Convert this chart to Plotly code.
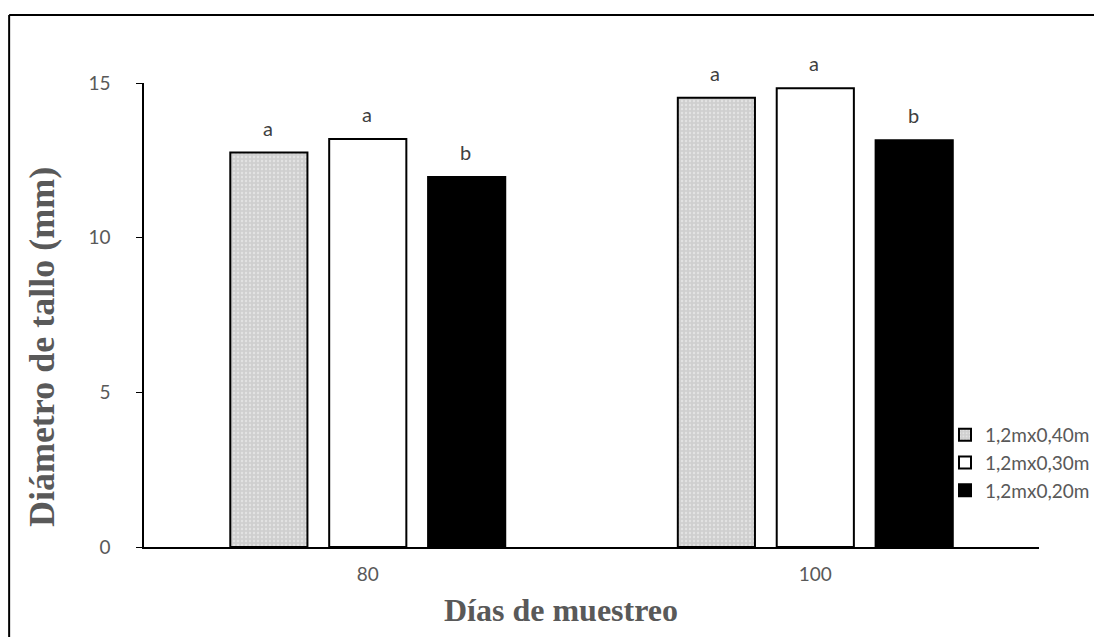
import plotly.graph_objects as go

categories = ["80", "100"]
series_names = ["1,2mx0,40m", "1,2mx0,30m", "1,2mx0,20m"]
values_040 = [12.75, 14.52]
values_030 = [13.19, 14.83]
values_020 = [11.96, 13.15]
letters_040 = ["a", "a"]
letters_030 = ["a", "a"]
letters_020 = ["b", "b"]
y_ticks = [0, 5, 10, 15]

W, H = 1095, 637
ML, MR, MT, MB = 144, 0, 83, 90
AX_END = 1040
pw = W - ML - MR
ph = H - MT - MB
xdom_end = (AX_END - ML) / pw
axw = AX_END - ML
bargap = 0.337
slot = axw / len(categories) * (1 - bargap) / 3

fig = go.Figure()
styles = [
    dict(color="#d6d6d6", line=dict(color="black", width=2),
         pattern=dict(shape=".", fgcolor="#f4f4f4", bgcolor="#cfcfcf", size=4, solidity=0.3)),
    dict(color="white", line=dict(color="black", width=2)),
    dict(color="black", line=dict(color="black", width=2)),
]
all_vals = [values_040, values_030, values_020]
all_letters = [letters_040, letters_030, letters_020]
for name, vals, st in zip(series_names, all_vals, styles):
    fig.add_trace(go.Bar(x=categories, y=vals, name=name, marker=st))

annotations = []
for i, (vals, lets) in enumerate(zip(all_vals, all_letters)):
    for ci, (v, l) in enumerate(zip(vals, lets)):
        annotations.append(dict(x=ci, y=v, xref="x", yref="y", text=l, showarrow=False,
                                xshift=(i - 1) * slot - 1, yshift=25,
                                font=dict(family="Lato", size=20, color="#404040")))

annotations.append(dict(text="<b>Días de muestreo</b>", xref="paper", yref="paper",
                        x=(561 - ML) / pw, y=-(610 - (MT + ph)) / ph, showarrow=False,
                        xanchor="center", yanchor="middle",
                        font=dict(family="Liberation Serif", size=32, color="#595959")))
annotations.append(dict(text="<b>Diámetro de tallo (mm)</b>", xref="paper", yref="paper",
                        x=(42 - ML) / pw, y=(MT + ph - 347) / ph, showarrow=False, textangle=-90,
                        xanchor="center", yanchor="middle",
                        font=dict(family="Liberation Serif", size=36, color="#595959")))

fig.update_layout(
    width=W, height=H,
    margin=dict(l=ML, r=MR, t=MT, b=MB),
    paper_bgcolor="white", plot_bgcolor="white",
    barmode="group", bargap=bargap, bargroupgap=0.22,
    showlegend=True,
    legend=dict(x=(946 - ML) / pw, y=(MT + ph - 416) / ph, xanchor="left", yanchor="top",
                font=dict(family="Lato", size=19, color="#595959"),
                bgcolor="rgba(0,0,0,0)", itemwidth=30, tracegroupgap=4),
    annotations=annotations,
    font=dict(family="Lato", color="#595959"),
    xaxis=dict(type="category", range=[-0.5, 1.5], domain=[0, xdom_end], showline=True,
               linecolor="black", linewidth=2, ticks="", showgrid=False,
               tickfont=dict(family="Lato", size=19, color="#595959"), ticklabelstandoff=9),
    yaxis=dict(range=[0, 15], tickvals=y_ticks, showline=True, linecolor="black", linewidth=1.5,
               ticks="outside", ticklen=6, tickcolor="black", showgrid=False, zeroline=False,
               tickfont=dict(family="Lato", size=19, color="#595959"), ticklabelstandoff=22),
    shapes=[dict(type="line", xref="paper", yref="paper",
                 x0=(9 - ML) / pw, x1=(1095 - ML) / pw,
                 y0=(MT + ph - 15) / ph, y1=(MT + ph - 15) / ph,
                 line=dict(color="black", width=2), layer="below"),
            dict(type="line", xref="paper", yref="paper",
                 x0=(9 - ML) / pw, x1=(9 - ML) / pw,
                 y0=-(637 - (MT + ph)) / ph, y1=(MT + ph - 15) / ph,
                 line=dict(color="black", width=2), layer="below")],
)

fig.write_html("out.html", config={"displayModeBar": False},
               post_script="document.body.style.margin='0px';")
